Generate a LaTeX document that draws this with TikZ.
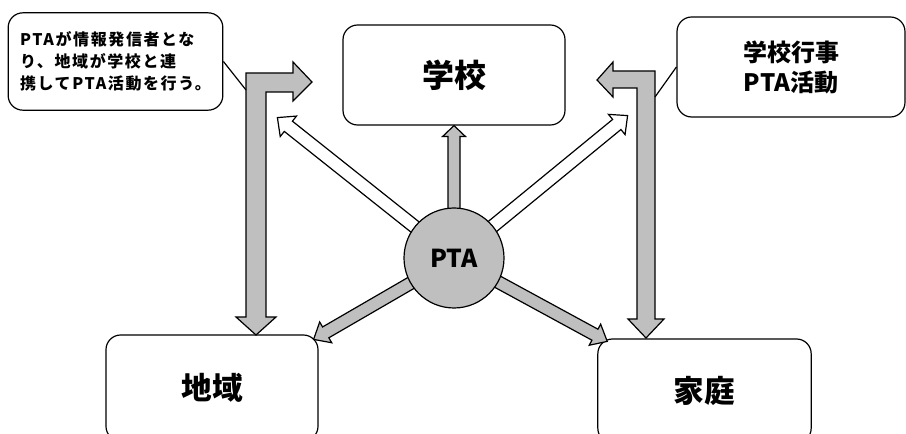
\documentclass[tikz,border=0pt]{standalone}
\usepackage{fontspec}
\setmainfont{Noto Sans CJK JP}
\usepackage{tikz}
\usetikzlibrary{calc,positioning}

\definecolor{arrowgray}{gray}{0.75}

\tikzset{
  box/.style={draw, line width=0.9pt, rounded corners=11pt, fill=white, align=center, inner sep=0pt},
  bigarrow/.style={draw, line width=0.9pt, line join=miter, fill=arrowgray},
  hollowarrow/.style={bigarrow, fill=white},
}

% block arrow: [style]{from}{to}{shaft half width}{head half width}{head length}
\newcommand{\blockarrow}[6][bigarrow]{%
  \draw[#1] ($(#2)!#4!90:(#3)$) -- ($(#3)!#6!(#2)!#4!-90:(#2)$) -- ($(#3)!#6!(#2)!#5!-90:(#2)$)
    -- (#3) -- ($(#3)!#6!(#2)!#5!90:(#2)$) -- ($(#3)!#6!(#2)!#4!90:(#2)$) -- ($(#2)!#4!-90:(#3)$) -- cycle;}

\begin{document}
\begin{tikzpicture}[x=0.75pt, y=-0.75pt]
  \path[use as bounding box, clip] (0,0) rectangle (906,434);

  % the three partners
  \node[box, minimum width=166.5pt, minimum height=75pt, font=\bfseries\fontsize{24}{28}\selectfont] (school) at (454,75) {学校};
  \node[box, minimum width=159pt, minimum height=79.5pt, font=\bfseries\fontsize{23}{28}\selectfont] (chiiki) at (212,388) {地域};
  \node[box, minimum width=160pt, minimum height=78pt, font=\bfseries\fontsize{23}{28}\selectfont] (katei) at (704.5,391) {家庭};

  % callouts
  \node[box, minimum width=161pt, minimum height=73pt, align=left, font=\bfseries\fontsize{12}{16.5}\selectfont\addfontfeature{LetterSpace=10}] (note) at (115.5,61.5)
    {PTAが情報発信者とな\\り、地域が学校と連\\携してPTA活動を行う。};
  \node[box, minimum width=171pt, minimum height=75pt, font=\bfseries\fontsize{18}{22.5}\selectfont] (event) at (791,67) {学校行事\\PTA活動};

  % L-shaped arrows
  \draw[bigarrow] (246,73) -- (293,73) -- (293,62) -- (312,82) -- (293,101) -- (293,92) -- (266,92)
    -- (266,317) -- (276,317) -- (256,335) -- (236,317) -- (246,317) -- cycle;
  \draw[bigarrow] (655,71) -- (655,319) -- (664,319) -- (646,338) -- (628,319) -- (637,319)
    -- (637,88) -- (613,88) -- (613,97) -- (597,80) -- (613,62) -- (613,71) -- cycle;
  \coordinate (lhook) at (246,90);
  \coordinate (rhook) at (655,97);
  \draw[line width=0.9pt] (note.east) -- (lhook);
  \draw[line width=0.9pt] (event.west) -- (rhook);

  % arrows out of PTA
  \coordinate (hub) at (454,258);
  \coordinate (ul) at ($(school.south west)+(-65,-8)$);
  \coordinate (ur) at ($(school.south east)+(62,-10)$);
  \coordinate (ll) at ($(chiiki.north east)+(-5,5)$);
  \coordinate (lr) at ($(katei.north west)+(10,3)$);
  \blockarrow{hub}{school.south}{4.5pt}{8.6pt}{8.2pt}
  \blockarrow[hollowarrow]{hub}{ul}{4.9pt}{9.8pt}{10.5pt}
  \blockarrow[hollowarrow]{hub}{ur}{4.9pt}{9.8pt}{10.5pt}
  \blockarrow{hub}{ll}{4.7pt}{9pt}{10.5pt}
  \blockarrow{hub}{lr}{4.7pt}{9pt}{10.5pt}

  \node[circle, draw, line width=0.9pt, fill=arrowgray, minimum size=75pt, inner sep=0pt,
    font=\bfseries\fontsize{18.5}{22}\selectfont] (pta) at (hub) {PTA};
\end{tikzpicture}
\end{document}
